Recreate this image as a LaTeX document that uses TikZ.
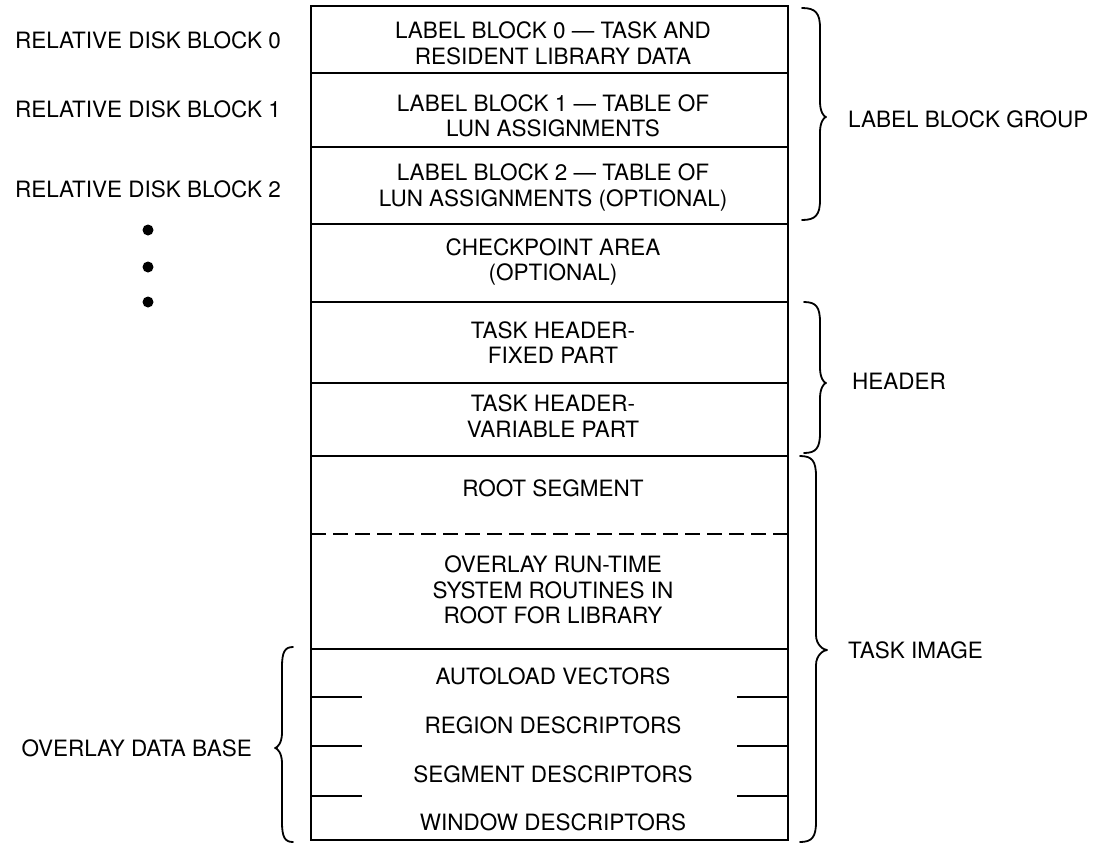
\documentclass[tikz,border=0pt]{standalone}
\usepackage{fontspec}
\setmainfont{TeX Gyre Heros}
\newcommand\fsz{\fontsize{22.5}{25.5}\selectfont}
% #1 x of ends, #2 x of straight part, #3 x of tip, #4 top y, #5 bottom y, #6 tip y
\newcommand\mybrace[6]{%
  \draw[bracestyle] (#1,#4) .. controls ({#2+0.25*(#1-#2)},#4) and (#2,{#4+5}) .. (#2,{#4+20})
    -- (#2,{#6-15}) .. controls (#2,{#6-5}) and ({#3+0.3*(#2-#3)},#6) .. (#3,#6)
    .. controls ({#3+0.3*(#2-#3)},#6) and (#2,{#6+5}) .. (#2,{#6+15})
    -- (#2,{#5-20}) .. controls (#2,{#5-5}) and ({#2+0.25*(#1-#2)},#5) .. (#1,#5);}
\begin{document}
\begin{tikzpicture}[x=1pt,y=-1pt,
  boxline/.style={line width=1.6pt, line cap=rect},
  dashline/.style={line width=1.6pt, dash pattern=on 15pt off 7pt},
  bracestyle/.style={line width=1.8pt, line cap=round, line join=round},
  txt/.style={inner sep=0pt, align=center, font=\fsz},
  dot/.style={circle, fill=black, inner sep=0pt, minimum size=11pt}]
\useasboundingbox (0,0) rectangle (1100,844);
% main box
\draw[boxline] (311,6) rectangle (788,840);
\foreach \yy in {73,147,224,302,383,456,649}
  \draw[boxline] (311,\yy) -- (788,\yy);
\draw[dashline] (311,534) -- (788,534);
\foreach \yy in {697,746,796} {
  \draw[boxline] (311,\yy) -- (361,\yy);
  \draw[boxline] (738,\yy) -- (788,\yy);
}
% texts in box
\node[txt] (lb0) at (553,43.5) {LABEL BLOCK 0 --- TASK AND\\RESIDENT LIBRARY DATA};
\node[txt] (lb1) at (553,116) {LABEL BLOCK 1 --- TABLE OF\\LUN ASSIGNMENTS};
\node[txt] (lb2) at (553,187.5) {LABEL BLOCK 2 --- TABLE OF\\LUN ASSIGNMENTS (OPTIONAL)};
\node[txt] (ckp) at (553,262) {CHECKPOINT AREA\\(OPTIONAL)};
\node[txt] (thf) at (553,342.5) {TASK HEADER-\\FIXED PART};
\node[txt] (thv) at (553,416) {TASK HEADER-\\VARIABLE PART};
\node[txt] (root) at (553,488.5) {ROOT SEGMENT};
\node[txt] (ovr) at (553,590) {OVERLAY RUN-TIME\\SYSTEM ROUTINES IN\\ROOT FOR LIBRARY};
\node[txt] (auto) at (553,676) {AUTOLOAD VECTORS};
\node[txt] (reg) at (553,725) {REGION DESCRIPTORS};
\node[txt] (seg) at (553,774) {SEGMENT DESCRIPTORS};
\node[txt] (win) at (553,822) {WINDOW DESCRIPTORS};
% left labels
\node[txt] (rdb0) at (148,40.5) {RELATIVE DISK BLOCK 0};
\node[txt] (rdb1) at (148,109.5) {RELATIVE DISK BLOCK 1};
\node[txt] (rdb2) at (148,189.5) {RELATIVE DISK BLOCK 2};
\node[dot] (d1) at (148,230) {};
\node[dot] (d2) at (148,267) {};
\node[dot] (d3) at (148,302) {};
\node[txt, anchor=east] (odb) at (252,748) {OVERLAY DATA BASE};
% right labels
\node[txt, anchor=west] (lbg) at (848,119.5) {LABEL BLOCK GROUP};
\node[txt, anchor=west] (hdr) at (852,381) {HEADER};
\node[txt, anchor=west] (tim) at (848,650) {TASK IMAGE};
% braces
\mybrace{802}{820}{826}{8}{220}{117}
\mybrace{804}{820}{826}{302}{453}{383}
\mybrace{800}{816}{827}{456}{842}{650}
\mybrace{293}{282}{275}{647}{842}{748}
\end{tikzpicture}
\end{document}
